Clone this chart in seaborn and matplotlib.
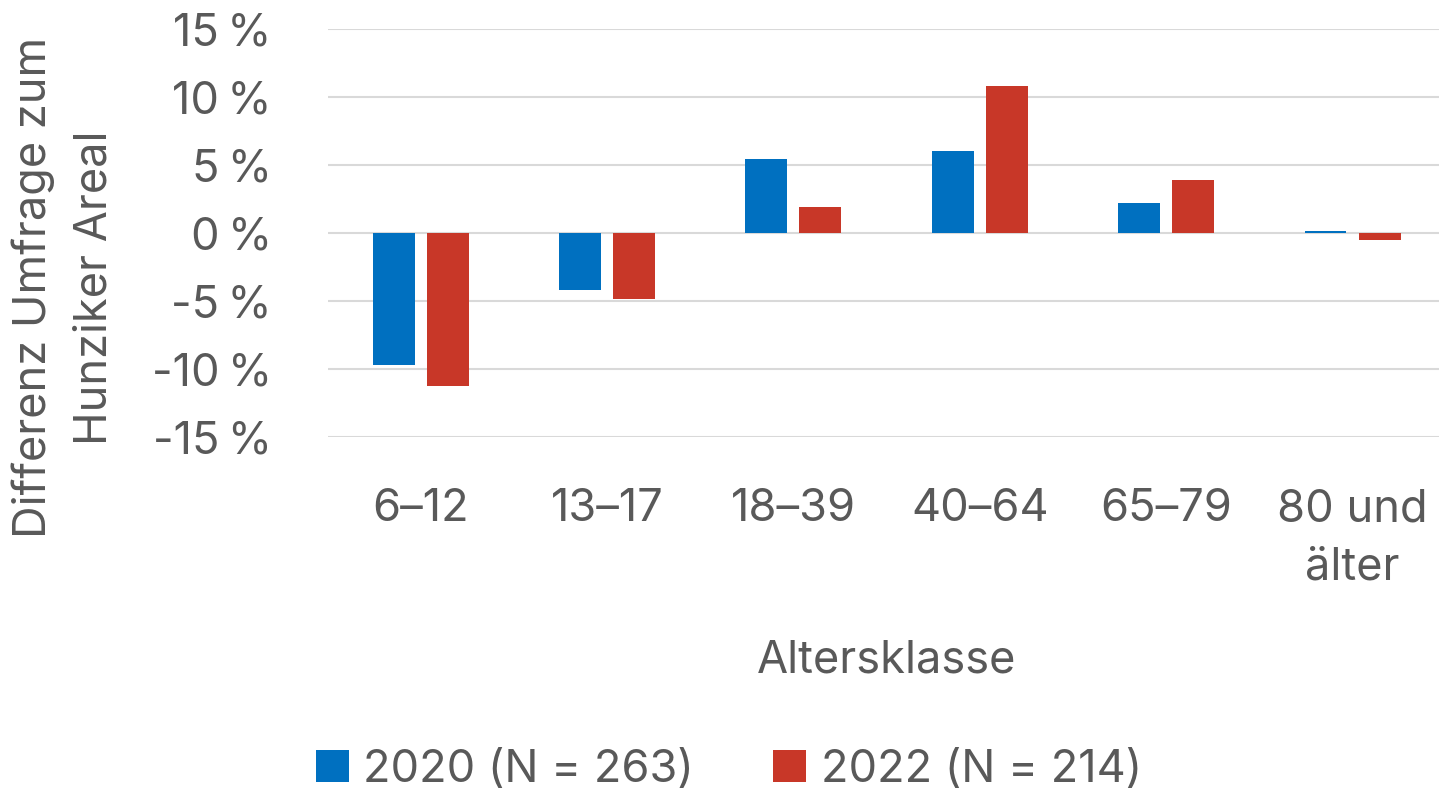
import matplotlib
matplotlib.use("Agg")
import matplotlib.pyplot as plt
import seaborn as sns
import pandas as pd
from matplotlib.ticker import FuncFormatter

# Age classes and survey differences (percentage points)
categories = ["6–12", "13–17", "18–39", "40–64", "65–79", "80 und\nälter"]
series_names = ["2020 (N = 263)", "2022 (N = 214)"]
values_2020 = [-9.7, -4.2, 5.4, 6.0, 2.2, 0.1]
values_2022 = [-11.3, -4.9, 1.9, 10.8, 3.9, -0.5]
y_ticks = [-15, -10, -5, 0, 5, 10, 15]
colors = ["#0070C0", "#C83728"]

df = pd.DataFrame({
    "Altersklasse": categories * 2,
    "Differenz": values_2020 + values_2022,
    "Jahr": [series_names[0]] * len(categories) + [series_names[1]] * len(categories),
})

sns.set_theme(style="white")
plt.rcParams["font.family"] = ["Inter", "DejaVu Sans"]
text_color = "#595959"
fs = 32.5

fig = plt.figure(figsize=(14.39, 7.96), dpi=100)
ax = fig.add_axes([327.5 / 1439, 1 - 436.7 / 796, 1118.2 / 1439, 407.7 / 796])

sns.barplot(
    data=df, x="Altersklasse", y="Differenz", hue="Jahr",
    palette=colors, saturation=1, width=0.58, gap=0.224, ax=ax,
    edgecolor="none", linewidth=0, zorder=3,
)

ax.set_ylim(-15, 15)
ax.set_yticks(y_ticks)
ax.yaxis.set_major_formatter(FuncFormatter(lambda v, _: f"{v:.0f}\u2009%"))
ax.grid(axis="y", color="#D9D9D9", linewidth=1.5, zorder=0)
ax.grid(axis="x", visible=False)
for s in ax.spines.values():
    s.set_visible(False)

ax.tick_params(axis="both", length=0, labelsize=fs, colors=text_color)
ax.tick_params(axis="y", pad=40)
ax.tick_params(axis="x", pad=37)
for lbl in ax.get_xticklabels():
    lbl.set_linespacing(1.5)
    lbl.set_verticalalignment("top")

ax.set_xlabel("Altersklasse", fontsize=fs, color=text_color, va="center")
ax.xaxis.set_label_coords(0.5, -0.548)
ax.set_ylabel("Differenz Umfrage zum\nHunziker Areal", fontsize=fs,
              color=text_color, va="center", ha="center", linespacing=1.55)
ax.yaxis.set_label_coords(-0.236, 0.365)

ax.get_legend().remove()
handles, labels = ax.get_legend_handles_labels()
leg = fig.legend(
    handles, labels, loc="center", bbox_to_anchor=(729 / 1439, 1 - 770 / 796),
    ncol=2, frameon=False, fontsize=fs, handlelength=0.72, handleheight=0.72,
    handletextpad=0.33, columnspacing=1.75, labelcolor=text_color,
)

fig.savefig("out.png", dpi=100)
